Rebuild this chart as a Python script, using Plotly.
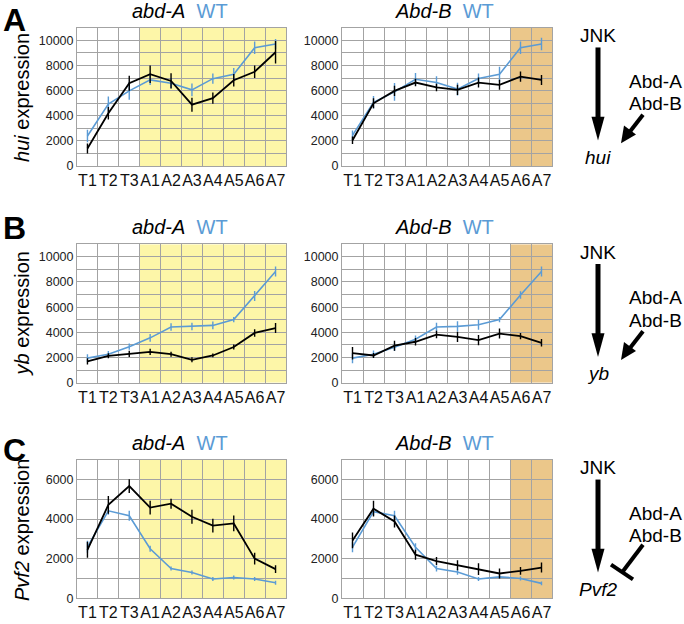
import plotly.graph_objects as go

segments = ["T1", "T2", "T3", "A1", "A2", "A3", "A4", "A5", "A6", "A7"]

# Panel A: hui expression
hui_abdA_mut = [1400, 4200, 6590, 7300, 6770, 4880, 5400, 6820, 7500, 9050]
hui_abdA_mut_err = [400, 500, 600, 700, 600, 550, 450, 500, 500, 900]
hui_abdA_wt = [2390, 4930, 5980, 6850, 6590, 6060, 6950, 7300, 9400, 9710]
hui_abdA_wt_err = [500, 600, 700, 400, 400, 500, 400, 500, 500, 400]
hui_AbdB_mut = [2050, 4990, 5980, 6640, 6250, 6060, 6640, 6460, 7110, 6850]
hui_AbdB_mut_err = [300, 400, 400, 300, 300, 400, 400, 400, 400, 400]
hui_AbdB_wt = [2440, 5070, 5900, 6900, 6640, 6120, 6960, 7300, 9400, 9710]
hui_AbdB_wt_err = [400, 500, 700, 500, 500, 500, 400, 600, 500, 500]

# Panel B: yb expression
yb_abdA_mut = [1690, 2130, 2290, 2440, 2260, 1820, 2160, 2830, 3950, 4340]
yb_abdA_mut_err = [250, 200, 250, 250, 200, 200, 150, 200, 300, 400]
yb_abdA_wt = [1950, 2260, 2860, 3560, 4420, 4470, 4550, 5010, 6880, 8830]
yb_abdA_wt_err = [300, 250, 250, 300, 300, 300, 300, 200, 400, 400]
yb_AbdB_mut = [2340, 2160, 2940, 3250, 3820, 3640, 3380, 3900, 3690, 3170]
yb_AbdB_mut_err = [500, 200, 400, 300, 300, 400, 400, 400, 250, 300]
yb_AbdB_wt = [1950, 2260, 2810, 3450, 4420, 4470, 4600, 5010, 6960, 8830]
yb_AbdB_wt_err = [400, 300, 300, 300, 350, 400, 400, 200, 300, 400]

# Panel C: Pvf2 expression
pvf2_abdA_mut = [2450, 4720, 5670, 4580, 4780, 4120, 3670, 3780, 2000, 1470]
pvf2_abdA_mut_err = [400, 450, 350, 350, 250, 350, 350, 400, 300, 200]
pvf2_abdA_wt = [2600, 4420, 4170, 2500, 1500, 1300, 970, 1050, 970, 780]
pvf2_abdA_wt_err = [300, 200, 250, 150, 100, 100, 100, 100, 100, 100]
pvf2_AbdB_mut = [2920, 4530, 3880, 2200, 1880, 1670, 1470, 1250, 1380, 1550]
pvf2_AbdB_mut_err = [400, 400, 300, 250, 200, 250, 300, 250, 200, 250]
pvf2_AbdB_wt = [2580, 4380, 4170, 2580, 1500, 1330, 970, 1080, 1000, 750]
pvf2_AbdB_wt_err = [250, 200, 250, 200, 150, 150, 100, 100, 100, 100]

genes = ["hui", "yb", "Pvf2"]
panel_letters = ["A", "B", "C"]
y_max = [11000, 11000, 7000]
y_ticks = [[0, 2000, 4000, 6000, 8000, 10000], [0, 2000, 4000, 6000, 8000, 10000], [0, 2000, 4000, 6000]]

panels = [
    [(hui_abdA_mut, hui_abdA_mut_err, hui_abdA_wt, hui_abdA_wt_err),
     (hui_AbdB_mut, hui_AbdB_mut_err, hui_AbdB_wt, hui_AbdB_wt_err)],
    [(yb_abdA_mut, yb_abdA_mut_err, yb_abdA_wt, yb_abdA_wt_err),
     (yb_AbdB_mut, yb_AbdB_mut_err, yb_AbdB_wt, yb_AbdB_wt_err)],
    [(pvf2_abdA_mut, pvf2_abdA_mut_err, pvf2_abdA_wt, pvf2_abdA_wt_err),
     (pvf2_AbdB_mut, pvf2_AbdB_mut_err, pvf2_AbdB_wt, pvf2_AbdB_wt_err)],
]
col_titles = ["abd-A", "Abd-B"]
shade_from = ["A1", "A6"]
shade_colors = ["#FDF6A8", "#EBC78A"]

W, H = 684, 624
BLUE = "#5B9BD5"
FONT = "Liberation Sans, Arial, sans-serif"
GRID = "#A3A3A3"

# pixel layout
col_x = [(77, 286), (342, 552)]
row_y = [(28, 168), (247, 387), (465, 605)]
letter_top = [0, 210, 435]


def px(x):
    return x / W


def py(y):
    return 1 - y / H


fig = go.Figure()
shapes = []
annotations = []

for r in range(3):
    for c in range(2):
        idx = r * 2 + c + 1
        xa = "x" if idx == 1 else f"x{idx}"
        ya = "y" if idx == 1 else f"y{idx}"
        mut, mut_err, wt, wt_err = panels[r][c]
        fig.add_trace(go.Scatter(
            x=segments, y=wt, mode="lines", xaxis=xa, yaxis=ya,
            line=dict(color=BLUE, width=1.6),
            error_y=dict(type="data", array=wt_err, width=0, thickness=1.4, color=BLUE),
            showlegend=False))
        fig.add_trace(go.Scatter(
            x=segments, y=mut, mode="lines", xaxis=xa, yaxis=ya,
            line=dict(color="black", width=1.8),
            error_y=dict(type="data", array=mut_err, width=0, thickness=1.4, color="black"),
            showlegend=False))
        xkey = "xaxis" if idx == 1 else f"xaxis{idx}"
        ykey = "yaxis" if idx == 1 else f"yaxis{idx}"
        fig.layout[xkey] = dict(
            domain=[px(col_x[c][0]), px(col_x[c][1])], anchor=ya,
            type="category", categoryorder="array", categoryarray=segments,
            range=[-0.5, 9.5], tickson="boundaries", ticks="", tickangle=0,
            showgrid=True, gridcolor=GRID, gridwidth=1,
            showline=True, linecolor=GRID, mirror=True, zeroline=False,
            tickfont=dict(family=FONT, size=16, color="#111"), fixedrange=True)
        fig.layout[ykey] = dict(
            domain=[py(row_y[r][1]), py(row_y[r][0])], anchor=xa,
            range=[0, y_max[r]], tickvals=y_ticks[r], tickformat="d", ticks="",
            showgrid=True, gridcolor=GRID, gridwidth=1,
            minor=dict(dtick=1000, tick0=0, showgrid=True, gridcolor=GRID, gridwidth=1),
            showline=True, linecolor=GRID, mirror=True, zeroline=False,
            tickfont=dict(family=FONT, size=12.5, color="#222"), fixedrange=True)
        # shaded region
        start = segments.index(shade_from[c]) - 0.5
        shapes.append(dict(type="rect", xref=xa, yref=ya, x0=start, x1=9.5,
                           y0=0, y1=y_max[r], fillcolor=shade_colors[c],
                           line=dict(width=0), layer="below"))
        # title
        cx = (col_x[c][0] + col_x[c][1]) / 2 - 2
        annotations.append(dict(
            xref="paper", yref="paper", x=px(cx), y=py(row_y[r][0] - 17),
            xanchor="center", yanchor="middle", showarrow=False,
            text=f"<i>{col_titles[c]}</i>  <span style='color:{BLUE}'>WT</span>",
            font=dict(family=FONT, size=20, color="black")))
    # panel letter
    annotations.append(dict(
        xref="paper", yref="paper", x=px(1), y=py(letter_top[r]),
        xanchor="left", yanchor="top", showarrow=False,
        text=f"<b>{panel_letters[r]}</b>", font=dict(family=FONT, size=32, color="black")))
    # y axis title
    annotations.append(dict(
        xref="paper", yref="paper", x=px(22), y=py((row_y[r][0] + row_y[r][1]) / 2 + 1),
        xanchor="center", yanchor="middle", showarrow=False, textangle=-90,
        text=f"<i>{genes[r]}</i> expression", font=dict(family=FONT, size=20, color="black")))

    # schematic on the right
    top = row_y[r][0]
    ax_x = 598
    annotations.append(dict(xref="paper", yref="paper", x=px(ax_x), y=py(top + 8),
                            xanchor="center", yanchor="middle", showarrow=False,
                            text="JNK", font=dict(family=FONT, size=19, color="black")))
    annotations.append(dict(xref="paper", yref="paper", x=px(ax_x), y=py(top + 131),
                            xanchor="center", yanchor="middle", showarrow=False,
                            text=f"<i>{genes[r]}</i>", font=dict(family=FONT, size=19, color="black")))
    annotations.append(dict(xref="paper", yref="paper", x=px(684), y=py(top + 54),
                            xanchor="right", yanchor="middle", showarrow=False,
                            text="Abd-A", font=dict(family=FONT, size=19, color="black")))
    annotations.append(dict(xref="paper", yref="paper", x=px(684), y=py(top + 77),
                            xanchor="right", yanchor="middle", showarrow=False,
                            text="Abd-B", font=dict(family=FONT, size=19, color="black")))
    # main arrow shaft + head
    tip = top + 114
    shapes.append(dict(type="line", xref="paper", yref="paper",
                       x0=px(ax_x), x1=px(ax_x), y0=py(top + 20), y1=py(tip - 14),
                       line=dict(color="black", width=5)))
    shapes.append(dict(type="path", xref="paper", yref="paper",
                       path=f"M {px(ax_x-6.5)} {py(tip-24)} L {px(ax_x+6.5)} {py(tip-24)} L {px(ax_x)} {py(tip)} Z",
                       fillcolor="black", line=dict(width=0)))
    if r < 2:
        # small activating arrow
        shapes.append(dict(type="line", xref="paper", yref="paper",
                           x0=px(643), y0=py(top + 88), x1=px(630), y1=py(top + 105),
                           line=dict(color="black", width=4)))
        shapes.append(dict(type="path", xref="paper", yref="paper",
                           path=(f"M {px(621)} {py(top + 117)} L {px(624)} {py(top + 99)} "
                                 f"L {px(636)} {py(top + 108)} Z"),
                           fillcolor="black", line=dict(width=0)))
    else:
        # inhibitory T-bar
        shapes.append(dict(type="line", xref="paper", yref="paper",
                           x0=px(643), y0=py(top + 86), x1=px(622), y1=py(top + 114),
                           line=dict(color="black", width=4)))
        shapes.append(dict(type="line", xref="paper", yref="paper",
                           x0=px(611), y0=py(top + 106), x1=px(633), y1=py(top + 121),
                           line=dict(color="black", width=4)))

fig.update_layout(
    width=W, height=H, margin=dict(l=0, r=0, t=0, b=0),
    paper_bgcolor="white", plot_bgcolor="white",
    shapes=shapes, annotations=annotations, showlegend=False,
    font=dict(family=FONT))

fig.write_html("out.html", config={"displayModeBar": False},
               post_script="document.body.style.margin='0px';document.body.style.padding='0px';")
